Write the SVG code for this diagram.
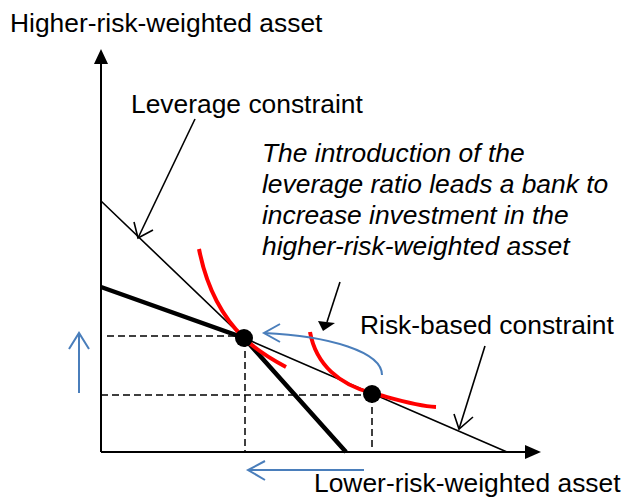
<svg xmlns="http://www.w3.org/2000/svg" width="626" height="501" viewBox="0 0 626 501">
<style>
  text { font-family: "Liberation Sans", Arial, sans-serif; font-size: 26.4px; fill: #000; }
  .it { font-style: italic; }
  .ax { stroke: #000; stroke-width: 2; fill: none; }
  .thin { stroke: #000; stroke-width: 1.6; fill: none; }
  .thick { stroke: #000; stroke-width: 4.5; fill: none; }
  .dash { stroke: #000; stroke-width: 1.5; stroke-dasharray: 7 4; fill: none; }
  .red { stroke: #ff0000; stroke-width: 4; fill: none; }
  .blue { stroke: #4a7ebb; stroke-width: 2; fill: none; }
  .ptr { stroke: #000; stroke-width: 1.6; fill: none; }
</style>
<rect width="626" height="501" fill="#fff"/>

<g id="axes">
  <line class="ax" x1="101" y1="452" x2="101" y2="62"/>
  <polygon points="101,49 94,64 108,64" fill="#000"/>
  <line class="ax" x1="101" y1="452" x2="527" y2="452"/>
  <polygon points="541,452 525,445 525,459" fill="#000"/>
</g>

<g id="dashed-guides">
  <line class="dash" x1="107" y1="336" x2="244" y2="336"/>
  <line class="dash" x1="101" y1="395" x2="371" y2="395"/>
  <line class="dash" x1="245" y1="340" x2="245" y2="452"/>
  <line class="dash" x1="372" y1="396" x2="372" y2="452"/>
</g>

<g id="constraints">
  <polyline class="thin" points="101,201 244,338 507,452"/>
  <polyline class="thick" points="101,287 244,338 346,452"/>
</g>

<g id="indifference-curves">
  <path class="red" d="M199,249 Q210,305 244,338 Q258,352 286,367"/>
  <path class="red" d="M310,332 C316,365 340,385 372,393 C395,399 415,406 436,407"/>
</g>

<g id="points">
  <circle cx="244" cy="338" r="9" fill="#000"/>
  <circle cx="372" cy="394" r="9" fill="#000"/>
</g>

<g id="shift-arrows">
  <path class="blue" d="M382,375 C382,352 330,336 264,333"/>
  <polyline class="blue" points="280,324 264,333 280,342"/>
  <line class="blue" x1="79" y1="393" x2="79" y2="333"/>
  <polyline class="blue" points="69,349 79,333 89,349"/>
  <line class="blue" x1="364" y1="470" x2="248" y2="470"/>
  <polyline class="blue" points="265,461 248,470 265,480"/>
</g>

<g id="connectors">
  <line class="ptr" x1="195" y1="119" x2="138" y2="238"/>
  <polyline class="ptr" points="134,222 138,238 153,230"/>
  <line class="ptr" x1="340" y1="282" x2="327" y2="322"/>
  <polygon points="323,331 318,321 335,323" fill="#000"/>
  <line class="ptr" x1="485" y1="346" x2="459" y2="429"/>
  <polyline class="ptr" points="454,414 459,429 473,417"/>
</g>

<g id="labels">
  <text x="10" y="32">Higher-risk-weighted asset</text>
  <text x="131" y="113">Leverage constraint</text>
  <text x="360" y="334">Risk-based constraint</text>
  <text x="314" y="492">Lower-risk-weighted asset</text>
  <text class="it" x="262" y="162">The introduction of the</text>
  <text class="it" x="262" y="193">leverage ratio leads a bank to</text>
  <text class="it" x="262" y="224">increase investment in the</text>
  <text class="it" x="262" y="255">higher-risk-weighted asset</text>
</g>
</svg>
